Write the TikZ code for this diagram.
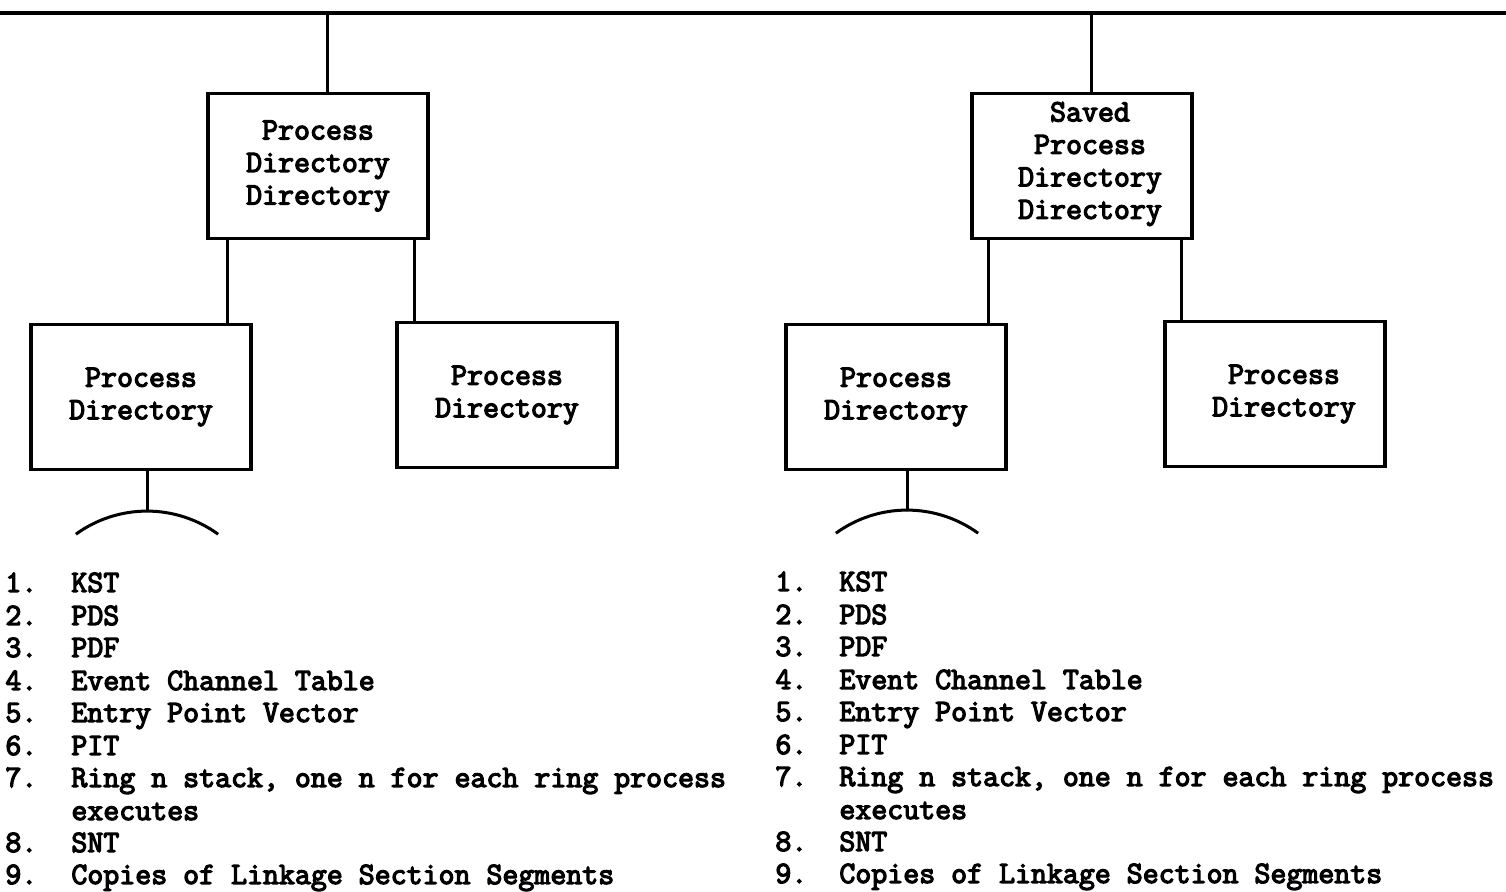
\documentclass[tikz,border=0pt]{standalone}
\usepackage{fontspec}
\usepackage{tikz}
\usetikzlibrary{calc}
\newfontfamily\typewriter[FakeBold=4]{Latin Modern Mono}

\tikzset{
  dirbox/.style={draw, line width=1.6pt, align=center, inner sep=0pt,
    minimum width=110pt, minimum height=72.5pt,
    font=\typewriter\fontsize{15.5}{16.25}\selectfont},
  boxtext/.style={align=center, inner sep=0pt,
    font=\typewriter\fontsize{15.5}{16.25}\selectfont},
  itemnum/.style={anchor=base west, inner sep=0pt,
    font=\typewriter\fontsize{15.5}{16.25}\selectfont},
  itemtext/.style={itemnum},
  wire/.style={line width=1.5pt},
  bus/.style={line width=2pt},
}

\begin{document}
\begin{tikzpicture}[x=0.5pt,y=0.5pt,yscale=-1]
\useasboundingbox (0,0) rectangle (1506,892);

%Boxes
\node[dirbox] (pdd) at (318,166) {Process\\Directory\\Directory};
\node[dirbox] (pdA) at (141,397) {Process\\Directory};
\node[dirbox] (pdB) at (507,395) {Process\\Directory};
\node[dirbox] (spdd) at (1082,166) {};
\node[boxtext] (spddtext) at ($(spdd.center)+(8,-2)$) {Saved\\Process\\Directory\\Directory};
\node[dirbox] (pdC) at (896,397) {Process\\Directory};
\node[dirbox] (pdD) at (1275,394) {};
\node[boxtext] (pdDtext) at ($(pdD.center)+(9,0)$) {Process\\Directory};

%Straight Lines: bus and taps
\coordinate (busW) at (0,13);
\coordinate (busE) at (1506,13);
\draw[bus] (busW) -- (busE);
\coordinate (tapL) at (327,13);
\draw[wire] (tapL) -- (tapL |- pdd.north);
\coordinate (tapR) at (1091,13);
\draw[wire] (tapR) -- (tapR |- spdd.north);

%Straight Lines: directory to directories
\coordinate (jA) at ($(pdd.south west)+(21,0)$);
\draw[wire] (jA) -- (jA |- pdA.north);
\coordinate (jB) at ($(pdd.south east)+(-15,0)$);
\draw[wire] (jB) -- (jB |- pdB.north);
\coordinate (jC) at ($(spdd.south west)+(18,0)$);
\draw[wire] (jC) -- (jC |- pdC.north);
\coordinate (jD) at ($(spdd.south east)+(-12,0)$);
\draw[wire] (jD) -- (jD |- pdD.north);

%Shape: Arc under the left ones
\coordinate (stemA) at ($(pdA.south)+(6,0)$);
\coordinate (arcA) at ($(stemA)+(0,40)$);
\draw[wire] (stemA) -- (arcA);
\draw[wire] (arcA) arc[start angle=-90, end angle=-126, radius=121];
\draw[wire] (arcA) arc[start angle=-90, end angle=-54, radius=121];

\coordinate (stemC) at ($(pdC.south)+(11,0)$);
\coordinate (arcC) at ($(stemC)+(0,39)$);
\draw[wire] (stemC) -- (arcC);
\draw[wire] (arcC) arc[start angle=-90, end angle=-126, radius=121];
\draw[wire] (arcC) arc[start angle=-90, end angle=-54, radius=121];

% Text Node: lists
\foreach \n/\t/\y in {1/KST/592, 2/PDS/625, 3/PDF/657, 4/Event Channel Table/690,
    5/Entry Point Vector/722, 6/PIT/755, 7/{Ring n stack, one n for each ring process}/787,
    8/SNT/852, 9/Copies of Linkage Section Segments/884}{
  \node[itemnum] (numL\n) at (5,\y) {\n.};
  \node[itemtext] (itemL\n) at (71,\y) {\t};
  \node[itemnum] (numR\n) at (775,\y-1) {\n.};
  \node[itemtext] (itemR\n) at (839,\y-1) {\t};
}
\node[itemtext] (itemL7b) at (71,820) {executes};
\node[itemtext] (itemR7b) at (839,819) {executes};

\end{tikzpicture}
\end{document}
